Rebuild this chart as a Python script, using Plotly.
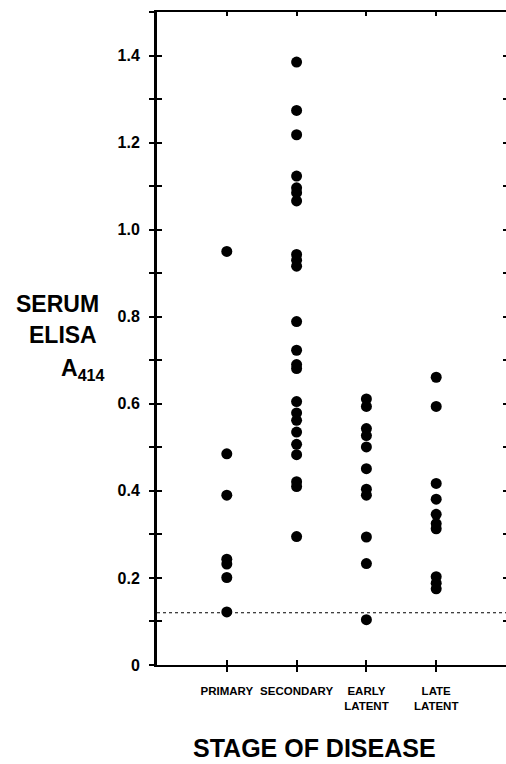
import plotly.graph_objects as go

# ---- data ----
categories = ["PRIMARY", "SECONDARY", "EARLY<br>LATENT", "LATE<br>LATENT"]
cat_pos = [1, 2, 3, 4]

primary = [0.95, 0.485, 0.39, 0.243, 0.232, 0.201, 0.122]
secondary = [1.385, 1.274, 1.218, 1.123, 1.096, 1.085, 1.066,
             0.943, 0.930, 0.916, 0.789, 0.723, 0.690, 0.681,
             0.605, 0.579, 0.562, 0.535, 0.507, 0.483, 0.421, 0.410, 0.295]
early_latent = [0.611, 0.594, 0.543, 0.527, 0.501, 0.451, 0.404, 0.390,
                0.294, 0.233, 0.104]
late_latent = [0.661, 0.594, 0.417, 0.381, 0.346, 0.325, 0.313,
               0.203, 0.188, 0.175]
cutoff = 0.12

y_range = [0, 1.5]
x_range = [0, 5]
y_tickvals = [0, 0.2, 0.4, 0.6, 0.8, 1.0, 1.2, 1.4]
y_ticktext = ["0", "0.2", "0.4", "0.6", "0.8", "1.0", "1.2", "1.4"]

groups = [primary, secondary, early_latent, late_latent]

fig = go.Figure()
for pos, vals in zip(cat_pos, groups):
    fig.add_trace(go.Scatter(
        x=[pos] * len(vals), y=vals, mode="markers",
        marker=dict(size=11, color="black", line=dict(width=0)),
        showlegend=False, hoverinfo="skip"))

# dotted cutoff line
fig.add_trace(go.Scatter(
    x=x_range, y=[cutoff, cutoff], mode="lines",
    line=dict(color="black", width=1, dash="dot"),
    showlegend=False, hoverinfo="skip"))

# invisible traces to activate helper axes
for xa, ya in [("x2", "y2"), ("x3", "y3")]:
    fig.add_trace(go.Scatter(x=[None], y=[None], xaxis=xa, yaxis=ya,
                             showlegend=False, hoverinfo="skip"))

tick_font = dict(family="Liberation Sans, Arial, sans-serif", size=16,
                 color="black", weight=700)
cat_font = dict(family="Liberation Sans, Arial, sans-serif",
                size=11.5, color="black", weight=700)

fig.update_layout(
    width=506, height=764,
    margin=dict(l=157, r=0, t=12, b=99),
    paper_bgcolor="white", plot_bgcolor="white",
    showlegend=False,
    xaxis=dict(range=x_range, tickvals=cat_pos, ticktext=categories,
               tickangle=0,
               ticks="outside", ticklen=5, tickwidth=2, tickcolor="black",
               showline=True, linewidth=2, linecolor="black", mirror=True,
               showgrid=False, zeroline=False, tickfont=cat_font,
               ticklabelstandoff=9),
    xaxis2=dict(range=x_range, overlaying="x", side="bottom",
                tickvals=cat_pos, ticks="inside", ticklen=5, tickwidth=2,
                tickcolor="black", showticklabels=False, showline=False,
                showgrid=False, zeroline=False),
    xaxis3=dict(range=x_range, overlaying="x", side="top",
                tickvals=cat_pos, ticks="inside", ticklen=4, tickwidth=2,
                tickcolor="black", showticklabels=False, showline=False,
                showgrid=False, zeroline=False),
    yaxis=dict(range=y_range, tickvals=y_tickvals, ticktext=y_ticktext,
               ticks="outside", ticklen=5, tickwidth=2, tickcolor="black",
               minor=dict(dtick=0.1, tick0=0, ticks="outside", ticklen=5,
                          tickwidth=2, tickcolor="black"),
               showline=True, linewidth=3, linecolor="black",
               showgrid=False, zeroline=False, tickfont=tick_font,
               ticklabelstandoff=6),
    yaxis2=dict(range=y_range, overlaying="y", side="left",
                dtick=0.1, tick0=0, ticks="inside", ticklen=5, tickwidth=2,
                tickcolor="black", showticklabels=False, showline=False,
                showgrid=False, zeroline=False),
    yaxis3=dict(range=y_range, overlaying="y", side="right",
                dtick=0.1, tick0=0, ticks="inside", ticklen=3, tickwidth=2,
                tickcolor="black", showticklabels=False, showline=False,
                showgrid=False, zeroline=False),
)

title_font = dict(family="Liberation Sans, Arial, sans-serif", size=23,
                  color="black", weight=700)
fig.add_annotation(text="SERUM", xref="paper", yref="paper",
                   x=-0.1605, y=0.5528, xanchor="right", yanchor="middle",
                   showarrow=False, font=title_font)
fig.add_annotation(text="ELISA", xref="paper", yref="paper",
                   x=-0.1662, y=0.5054, xanchor="right", yanchor="middle",
                   showarrow=False, font=title_font)
fig.add_annotation(text="A<sub>414</sub>", xref="paper", yref="paper",
                   x=-0.1433, y=0.452, xanchor="right", yanchor="middle",
                   showarrow=False, font=title_font)
fig.add_annotation(text="STAGE OF DISEASE", xref="paper", yref="paper",
                   x=0.4499, y=-0.1271, xanchor="center", yanchor="middle",
                   showarrow=False,
                   font=dict(family="Liberation Sans, Arial, sans-serif",
                             size=25, color="black", weight=700))

fig.write_html("out.html")
